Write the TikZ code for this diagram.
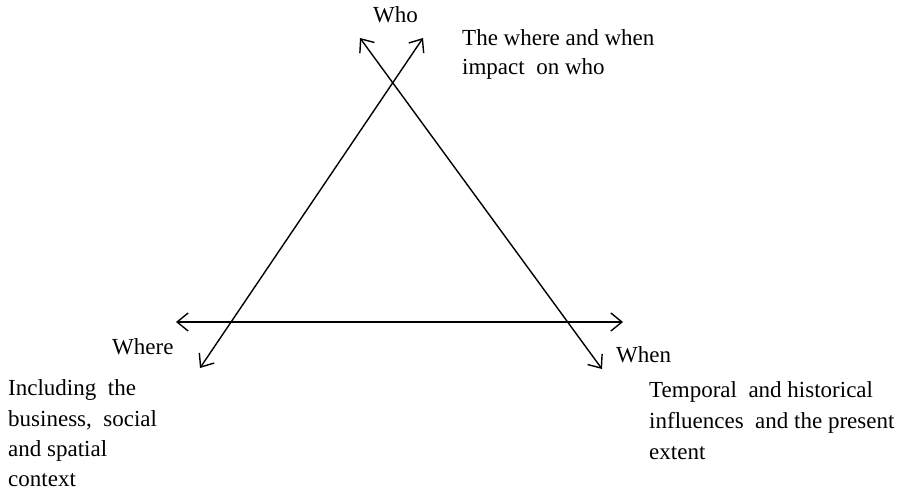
\documentclass[tikz,border=0pt]{standalone}
\usepackage{fontspec}
\setmainfont{Liberation Serif}
\usetikzlibrary{arrows.meta}
\begin{document}
\begin{tikzpicture}[x=1pt,y=-1pt,
  axis/.style={line width=1.4pt,{Straight Barb[length=11pt,width=18pt,line width=1.4pt]}-{Straight Barb[length=11pt,width=18pt,line width=1.4pt]}},
  lbl/.style={anchor=base west,inner sep=0pt,font=\fontsize{23}{28}\selectfont}]
\useasboundingbox (0,0) rectangle (900,492);
\fill[white] (0,0) rectangle (900,492);
% end points
\coordinate (L1a) at (360,38);
\coordinate (L1b) at (602,369);
\coordinate (L2a) at (423,38);
\coordinate (L2b) at (200,368);
\coordinate (Ha) at (176,322);
\coordinate (Hb) at (623,322);
\draw[axis] (L1a) -- (L1b);
\draw[axis] (L2a) -- (L2b);
\draw[axis] (Ha) -- (Hb);
% labels
\node[lbl] (who) at (373,23) {Who};
\node[lbl] (where) at (112,354) {Where};
\node[lbl] (when) at (616,362) {When};
\node[lbl] (t1) at (462,46) {The where and when};
\node[lbl] (t2) at (462,75) {impact\ \ on who};
\node[lbl] (l1) at (8,395) {Including\ \ the};
\node[lbl] (l2) at (8,426) {business,\ \ social};
\node[lbl] (l3) at (8,456) {and spatial};
\node[lbl] (l4) at (8,486) {context};
\node[lbl] (r1) at (649,397) {Temporal\ \ and historical};
\node[lbl] (r2) at (649,428) {influences\ \ and the present};
\node[lbl] (r3) at (649,459) {extent};
\end{tikzpicture}
\end{document}
